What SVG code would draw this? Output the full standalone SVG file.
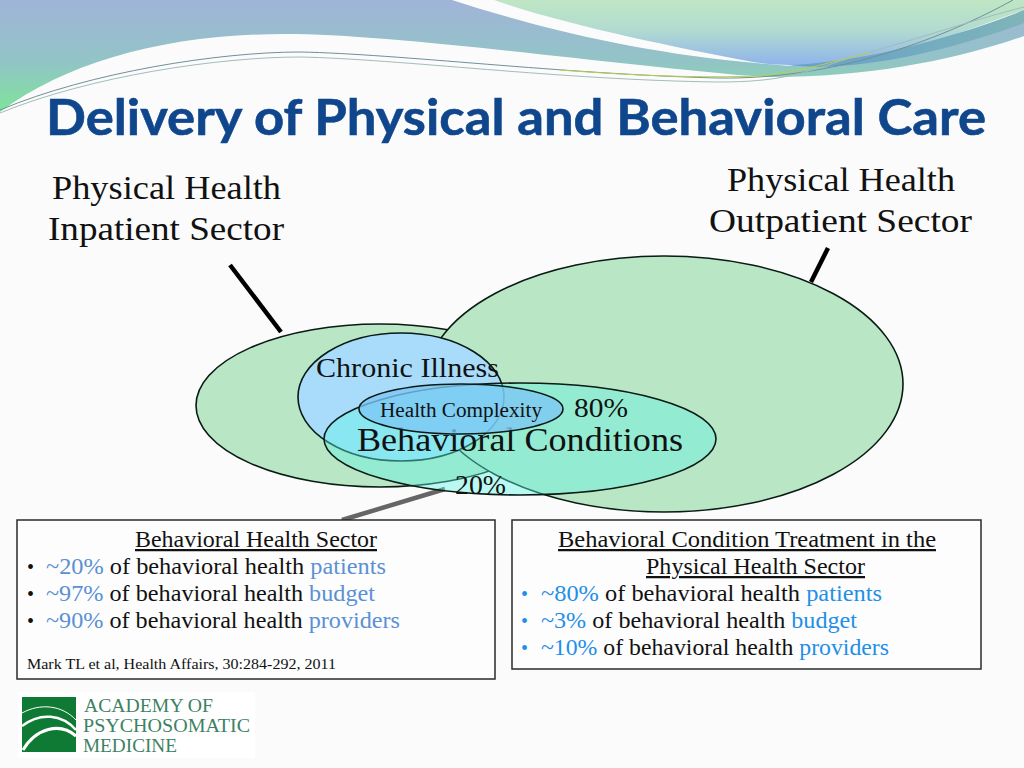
<svg xmlns="http://www.w3.org/2000/svg" width="1024" height="768" viewBox="0 0 1024 768">
<style>
text{font-family:"Liberation Serif",serif;fill:#111}
.title{font-family:Lato,"Liberation Sans",sans-serif;font-weight:700;fill:#0f468c;stroke:#0f468c;stroke-width:.6}
.lab{font-size:34px}
.body{font-size:22.5px}
.blue{fill:#5b90d4}
.bright{fill:#1f8fe8}
.dot{font-size:20px}
.ell{stroke:#0a1a14;stroke-width:1.6}
.box{fill:#fdfdfd;stroke:#2a2a2a;stroke-width:1.5}
.logo{font-size:19.5px;fill:#3d8263}
</style>
<defs>
<linearGradient id="g1" x1="0" y1="0" x2="0" y2="1"><stop offset="0" stop-color="#a0b4d8"/><stop offset=".55" stop-color="#92c4c6"/><stop offset="1" stop-color="#7de49a"/></linearGradient>
<linearGradient id="g2" x1="0" y1="0" x2="0" y2="1"><stop offset="0" stop-color="#bfe6c4"/><stop offset=".45" stop-color="#b2dcd0"/><stop offset="1" stop-color="#8fb4ea"/></linearGradient>
<linearGradient id="g3" x1="0" y1="0" x2="1" y2="0"><stop offset="0" stop-color="#659fcb"/><stop offset="1" stop-color="#7fb4b8"/></linearGradient>
</defs>
<rect width="1024" height="768" fill="#fbfbfb"/>
<g id="banner">
<path d="M0 0H452C520 22 620 50 745 62L790 66L1024 20V36C950 62 860 78 764 77C620 66 400 34 285 34C170 34 70 60 0 112Z" fill="url(#g1)"/>
<path d="M494 0H1024V10C950 36 880 66 790 65C775 65 765 64 753 62C670 46 570 26 494 0Z" fill="url(#g2)"/>
<path d="M786 65C850 64 950 40 1024 10V23C950 50 880 66 815 67Z" fill="url(#g3)"/>
<g fill="none" stroke-width="1">
<path d="M0 110C90 72 220 52 300 52C400 54 560 74 718 78C840 80 950 35 1013 0" stroke="#6f9098"/>
<path d="M0 113C90 76 220 57 300 57C400 59 560 80 718 82C780 82 800 74 850 58C920 38 980 18 1024 7" stroke="#a3bcb8"/>
<path d="M560 70C640 76 700 78 760 76C800 72 840 60 870 52" stroke="#b6cf50"/>
</g>
</g>
<text class="title" x="46" y="135" font-size="50" textLength="940" lengthAdjust="spacingAndGlyphs">Delivery of Physical and Behavioral Care</text>
<g id="labels">
<text class="lab" x="52" y="199" textLength="229" lengthAdjust="spacingAndGlyphs">Physical Health</text>
<text class="lab" x="48" y="240" textLength="236" lengthAdjust="spacingAndGlyphs">Inpatient Sector</text>
<text class="lab" x="727" y="191" textLength="228" lengthAdjust="spacingAndGlyphs">Physical Health</text>
<text class="lab" x="709" y="232" textLength="263" lengthAdjust="spacingAndGlyphs">Outpatient Sector</text>
</g>
<g id="connectors" stroke-linecap="butt" fill="none">
<path d="M230 265L281 332" stroke="#000" stroke-width="4.5"/>
<path d="M811 282L828 248" stroke="#000" stroke-width="4.5"/>
<path d="M342 520L445 489" stroke="#666" stroke-width="4.5"/>
</g>
<g id="inpatient"><ellipse class="ell" cx="380" cy="405.5" rx="184" ry="81.5" fill="#b9e6c4"/></g>
<g id="outpatient"><ellipse class="ell" cx="664" cy="384" rx="239" ry="128" fill="#b9e6c4"/></g>
<g id="chronic"><ellipse class="ell" cx="401" cy="397" rx="103" ry="64" fill="#a8dcfa"/>
<text x="316" y="377" font-size="27.5" textLength="183" lengthAdjust="spacingAndGlyphs">Chronic Illness</text></g>
<g id="behavioral"><ellipse class="ell" cx="520" cy="439" rx="196" ry="56" fill="#60f5e4" fill-opacity=".42"/>
<text x="357" y="451" font-size="33.5" textLength="326" lengthAdjust="spacingAndGlyphs">Behavioral Conditions</text>
<text x="574" y="417" font-size="28" textLength="54" lengthAdjust="spacingAndGlyphs">80%</text>
<text x="455" y="494" font-size="28" textLength="51" lengthAdjust="spacingAndGlyphs">20%</text></g>
<g id="complexity"><ellipse class="ell" cx="461" cy="409" rx="102" ry="25" fill="#7cc6f5" fill-opacity=".78"/>
<text x="380" y="417" font-size="20" textLength="162" lengthAdjust="spacingAndGlyphs">Health Complexity</text></g>
<g id="bh-sector">
<rect class="box" x="17" y="520" width="478" height="159"/>
<text class="body" x="135" y="547" text-decoration="underline" textLength="242" lengthAdjust="spacingAndGlyphs">Behavioral Health Sector</text>
<text class="dot" x="27" y="574">•</text><text class="body" x="46" y="574" textLength="340" lengthAdjust="spacingAndGlyphs"><tspan class="blue">~20%</tspan> of behavioral health <tspan class="blue">patients</tspan></text>
<text class="dot" x="27" y="601">•</text><text class="body" x="46" y="601" textLength="329" lengthAdjust="spacingAndGlyphs"><tspan class="blue">~97%</tspan> of behavioral health <tspan class="blue">budget</tspan></text>
<text class="dot" x="27" y="628">•</text><text class="body" x="46" y="628" textLength="354" lengthAdjust="spacingAndGlyphs"><tspan class="blue">~90%</tspan> of behavioral health <tspan class="blue">providers</tspan></text>
<text x="27" y="669" font-size="15.5" textLength="309" lengthAdjust="spacingAndGlyphs">Mark TL et al, Health Affairs, 30:284-292, 2011</text>
</g>
<g id="pc-sector">
<rect class="box" x="512" y="520" width="469" height="149"/>
<text class="body" x="558" y="547" text-decoration="underline" textLength="378" lengthAdjust="spacingAndGlyphs">Behavioral Condition Treatment in the</text>
<text class="body" x="646" y="574" text-decoration="underline" textLength="219" lengthAdjust="spacingAndGlyphs">Physical Health Sector</text>
<text class="dot bright" x="521" y="601">•</text><text class="body" x="541" y="601" textLength="341" lengthAdjust="spacingAndGlyphs"><tspan class="bright">~80%</tspan> of behavioral health <tspan class="bright">patients</tspan></text>
<text class="dot bright" x="521" y="628">•</text><text class="body" x="541" y="628" textLength="316" lengthAdjust="spacingAndGlyphs"><tspan class="bright">~3%</tspan> of behavioral health <tspan class="bright">budget</tspan></text>
<text class="dot bright" x="521" y="655">•</text><text class="body" x="541" y="655" textLength="348" lengthAdjust="spacingAndGlyphs"><tspan class="bright">~10%</tspan> of behavioral health <tspan class="bright">providers</tspan></text>
</g>
<g id="logo">
<rect x="18" y="692" width="237" height="66" fill="#fff"/>
<rect x="22" y="697" width="54" height="55" fill="#0f7a33"/>
<g fill="none" stroke="#fff">
<path d="M22 713C40 703 62 705 76 720" stroke-width="1"/>
<path d="M22 726C40 712 62 714 76 730" stroke-width="2.5"/>
<path d="M23 750C36 728 60 722 76 736" stroke-width="3"/>
</g>
<text class="logo" x="84" y="712" textLength="129" lengthAdjust="spacingAndGlyphs">ACADEMY OF</text>
<text class="logo" x="83" y="732" textLength="167" lengthAdjust="spacingAndGlyphs">PSYCHOSOMATIC</text>
<text class="logo" x="83" y="752" textLength="94" lengthAdjust="spacingAndGlyphs">MEDICINE</text>
</g>
</svg>
